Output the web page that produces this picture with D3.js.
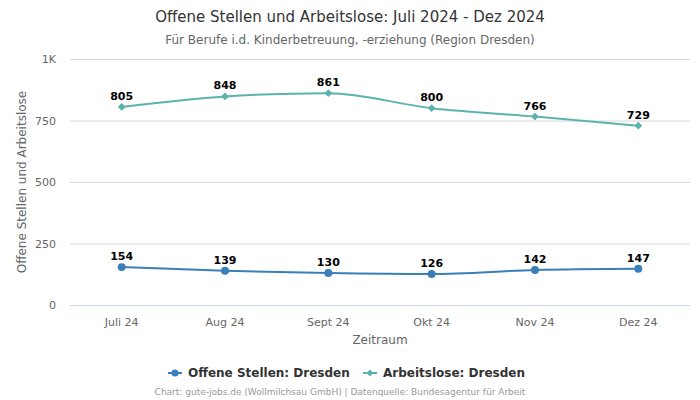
<!DOCTYPE html>
<html><head><meta charset="utf-8">
<script src="https://cdn.jsdelivr.net/npm/d3@7"></script>
<style>body{margin:0;background:#fff;font-family:"DejaVu Sans",sans-serif;}</style>
</head><body><svg id="c" width="700" height="400"></svg>
<script>
const categories = ["Juli 24","Aug 24","Sept 24","Okt 24","Nov 24","Dez 24"];
const offeneStellen = [154,139,130,126,142,147];
const arbeitslose = [805,848,861,800,766,729];
const yTicks = [0,250,500,750,1000];
const yTickLabels = ["0","250","500","750","1K"];
const seriesNames = ["Offene Stellen: Dresden","Arbeitslose: Dresden"];
const colors = ["#3a7fba","#5bb3ad"];

const svg = d3.select("#c");
const x = d3.scaleBand().domain(categories).range([70,690]);
const y = d3.scaleLinear().domain([0,1000]).range([305,59]);
const cx = d => x(d) + x.bandwidth()/2;

svg.append("text").attr("x",350).attr("y",22).attr("text-anchor","middle")
  .attr("font-size",15).attr("fill","#333").text("Offene Stellen und Arbeitslose: Juli 2024 - Dez 2024");
svg.append("text").attr("x",350).attr("y",44).attr("text-anchor","middle")
  .attr("font-size",12).attr("fill","#666").text("Für Berufe i.d. Kinderbetreuung, -erziehung (Region Dresden)");

// grid
const ga = svg.append("g").attr("transform","translate(70,0)")
  .call(d3.axisLeft(y).tickValues(yTicks).tickSize(-620).tickFormat((d,i)=>yTickLabels[i]));
ga.select(".domain").remove();
ga.selectAll("line").attr("stroke","#d6d6d6");
ga.selectAll("text").attr("font-size",11).attr("fill","#666").attr("x",-14).attr("font-family","DejaVu Sans");

const xa = svg.append("g").attr("transform","translate(0,305)")
  .call(d3.axisBottom(x).tickSize(0));
xa.select(".domain").attr("stroke","#ccd6eb");
xa.selectAll("text").attr("font-size",11).attr("fill","#666").attr("dy","1.6em").attr("font-family","DejaVu Sans");

svg.append("text").attr("x",380).attr("y",344).attr("text-anchor","middle")
  .attr("font-size",12).attr("fill","#666").text("Zeitraum");
svg.append("text").attr("transform","translate(26,182) rotate(-90)").attr("text-anchor","middle")
  .attr("font-size",12).attr("fill","#666").text("Offene Stellen und Arbeitslose");

const line = d3.line().x((d,i)=>cx(categories[i])).y(d=>y(d)).curve(d3.curveMonotoneX);
const series = [offeneStellen, arbeitslose];
function marker(k, size){
  return k===0 ? d3.symbol().type(d3.symbolCircle).size(size)() : d3.symbol().type(d3.symbolSquare).size(size*0.6)();
}
series.forEach((s,k)=>{
  svg.append("path").attr("d",line(s)).attr("fill","none").attr("stroke",colors[k]).attr("stroke-width",2);
  svg.selectAll(null).data(s).enter().append("path")
    .attr("d",marker(k,50))
    .attr("transform",(d,i)=>`translate(${cx(categories[i])},${y(d)})` + (k===1?" rotate(45)":""))
    .attr("fill",colors[k]);
  svg.selectAll(null).data(s).enter().append("text")
    .attr("x",(d,i)=>cx(categories[i])).attr("y",d=>y(d)-7)
    .attr("text-anchor","middle").attr("font-size",11).attr("font-weight","bold").attr("fill","#000")
    .text(d=>d);
});

// legend
const lg = svg.append("g");
const items = [{x:168,k:0},{x:363,k:1}];
items.forEach(it=>{
  lg.append("line").attr("x1",it.x).attr("x2",it.x+14).attr("y1",373).attr("y2",373).attr("stroke",colors[it.k]).attr("stroke-width",2);
  lg.append("path").attr("d",marker(it.k,40))
    .attr("transform",`translate(${it.x+7},373)` + (it.k===1?" rotate(45)":""))
    .attr("fill",colors[it.k]);
  lg.append("text").attr("x",it.x+20).attr("y",377).attr("font-size",12).attr("font-weight","bold")
    .attr("fill","#333").text(seriesNames[it.k]);
});
svg.append("text").attr("x",340).attr("y",395).attr("text-anchor","middle")
  .attr("font-size",9).attr("fill","#999").text("Chart: gute-jobs.de (Wollmilchsau GmbH) | Datenquelle: Bundesagentur für Arbeit");
</script></body></html>
